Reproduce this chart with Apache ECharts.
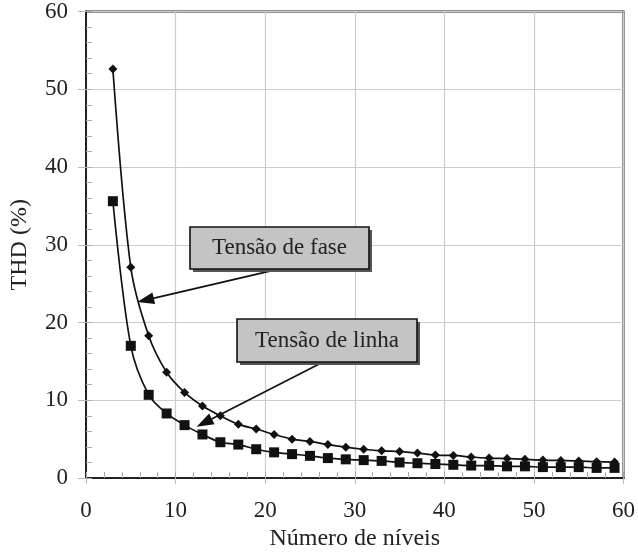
<!DOCTYPE html>
<html><head><meta charset="utf-8">
<script src="https://cdn.jsdelivr.net/npm/echarts@6/dist/echarts.min.js"></script>
<style>html,body{margin:0;padding:0;background:#fff}#c{width:638px;height:556px}</style>
</head><body><div id="c"></div>
<script>
const levels = [3,5,7,9,11,13,15,17,19,21,23,25,27,29,31,33,35,37,39,41,43,45,47,49,51,53,55,57,59];
const thdFase = [52.6,27.1,18.3,13.6,11.0,9.25,8.0,6.9,6.3,5.6,5.0,4.7,4.3,3.97,3.7,3.5,3.4,3.2,2.95,2.9,2.7,2.56,2.5,2.4,2.3,2.25,2.2,2.1,2.05];
const thdLinha = [35.6,17.0,10.7,8.3,6.8,5.6,4.6,4.3,3.7,3.3,3.07,2.85,2.56,2.4,2.3,2.2,2.0,1.9,1.8,1.7,1.6,1.6,1.5,1.5,1.4,1.4,1.4,1.3,1.3];
const xTicks = [0,10,20,30,40,50,60];
const yTicks = [0,10,20,30,40,50,60];
const labelFase = 'Tensão de fase';
const labelLinha = 'Tensão de linha';
const arrowFase = [[21.6,26.9],[6.64,22.87]];
const arrowLinha = [[26.8,15.1],[13.2,7.1]];

const font = 'Liberation Serif, Times New Roman, serif';
const chart = echarts.init(document.getElementById('c'));
const pair = (xs, ys) => xs.map((x, i) => [x, ys[i]]);
const baseAxis = {min: 0, max: 60, interval: 10};
chart.setOption({
  animation: false,
  grid: {left: 86, right: 12, top: 11, bottom: 76, show: true, borderColor: '#222', borderWidth: 2, backgroundColor: 'transparent'},
  xAxis: [
    Object.assign({}, baseAxis, {
      type: 'value', position: 'bottom',
      name: 'Número de níveis', nameLocation: 'middle', nameGap: 49,
      nameTextStyle: {fontFamily: font, fontSize: 24, color: '#222'},
      axisLine: {show: true, lineStyle: {color: '#222', width: 2}},
      axisTick: {show: true, inside: false, length: 6, lineStyle: {color: '#bbb'}},
      axisLabel: {fontFamily: font, fontSize: 23, color: '#222', margin: 21, formatter: v => xTicks.includes(v) ? String(v) : ''},
      splitLine: {show: true, lineStyle: {color: '#ccc', width: 1.2}}
    }),
    Object.assign({}, baseAxis, {
      type: 'value', position: 'bottom', interval: 2,
      axisLine: {show: false},
      axisTick: {show: true, inside: true, length: 6, lineStyle: {color: '#aaa'}},
      axisLabel: {show: false}, splitLine: {show: false}
    })
  ],
  yAxis: [
    Object.assign({}, baseAxis, {
      type: 'value', position: 'left',
      name: 'THD (%)', nameLocation: 'middle', nameGap: 54,
      nameTextStyle: {fontFamily: font, fontSize: 24, color: '#222'},
      axisLine: {show: true, lineStyle: {color: '#222', width: 2}},
      axisTick: {show: true, inside: false, length: 8, lineStyle: {color: '#bbb'}},
      axisLabel: {fontFamily: font, fontSize: 23, color: '#222', margin: 18, formatter: v => yTicks.includes(v) ? String(v) : ''},
      splitLine: {show: true, lineStyle: {color: '#ccc', width: 1.2}}
    }),
    Object.assign({}, baseAxis, {
      type: 'value', position: 'left', interval: 2,
      axisLine: {show: false},
      axisTick: {show: true, inside: true, length: 6, lineStyle: {color: '#aaa'}},
      axisLabel: {show: false}, splitLine: {show: false}
    })
  ],
  series: [
    {
      type: 'line', name: labelFase, data: pair(levels, thdFase), smooth: 0.3,
      symbol: 'diamond', symbolSize: 9, itemStyle: {color: '#111'},
      lineStyle: {color: '#111', width: 1.7},
      markLine: {
        silent: true, symbol: ['none', 'triangle'], symbolSize: [12, 17],
        lineStyle: {color: '#111', width: 1.7, type: 'solid'}, label: {show: false},
        data: [
          [{coord: arrowFase[0]}, {coord: arrowFase[1]}],
          [{coord: arrowLinha[0]}, {coord: arrowLinha[1]}]
        ]
      }
    },
    {
      type: 'line', name: labelLinha, data: pair(levels, thdLinha), smooth: 0.3,
      symbol: 'rect', symbolSize: 10, itemStyle: {color: '#111'},
      lineStyle: {color: '#111', width: 1.7}
    }
  ],
  graphic: [
    {type: 'rect', shape: {x: 193, y: 230, width: 179, height: 42}, style: {fill: '#555'}, z: 100},
    {type: 'rect', shape: {x: 190, y: 227, width: 179, height: 42}, style: {fill: '#c4c4c4', stroke: '#111', lineWidth: 1.6}, z: 101},
    {type: 'text', x: 279.5, y: 248, style: {text: labelFase, font: '23px ' + font, fill: '#222', align: 'center', verticalAlign: 'middle'}, z: 102},
    {type: 'rect', shape: {x: 240, y: 322, width: 180, height: 43}, style: {fill: '#555'}, z: 100},
    {type: 'rect', shape: {x: 237, y: 319, width: 180, height: 43}, style: {fill: '#c4c4c4', stroke: '#111', lineWidth: 1.6}, z: 101},
    {type: 'text', x: 327, y: 340.5, style: {text: labelLinha, font: '23px ' + font, fill: '#222', align: 'center', verticalAlign: 'middle'}, z: 102}
  ]
});
</script></body></html>
